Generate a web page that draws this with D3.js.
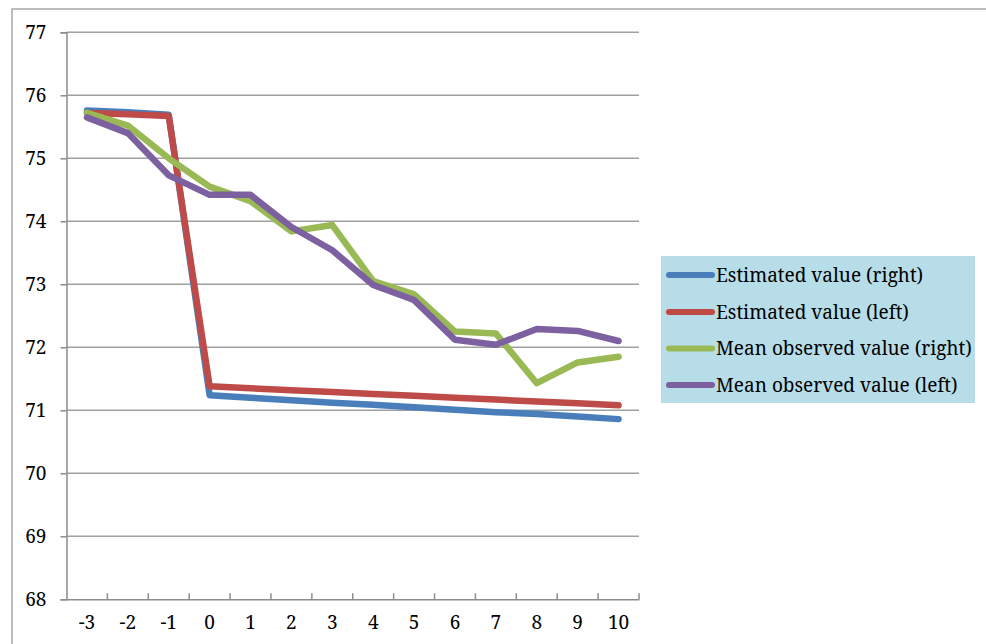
<!DOCTYPE html>
<html>
<head>
<meta charset="utf-8">
<script src="https://cdn.jsdelivr.net/npm/d3@7"></script>
<style>
html,body{margin:0;padding:0;background:#fff;overflow:hidden;}
svg{display:block;}
</style>
</head>
<body>
<svg id="chart" width="986" height="644"></svg>
<script>
const categories = ["-3","-2","-1","0","1","2","3","4","5","6","7","8","9","10"];
const estRight = [75.76,75.73,75.69,71.24,71.20,71.16,71.12,71.09,71.05,71.01,70.97,70.94,70.90,70.86];
const estLeft  = [75.72,75.70,75.67,71.38,71.35,71.32,71.29,71.26,71.23,71.20,71.17,71.14,71.11,71.08];
const obsRight = [75.72,75.52,75.00,74.55,74.32,73.84,73.94,73.05,72.84,72.25,72.22,71.43,71.76,71.85];
const obsLeft  = [75.65,75.40,74.73,74.42,74.42,73.91,73.54,72.99,72.75,72.12,72.04,72.29,72.26,72.10];
const seriesNames = ["Estimated value (right)","Estimated value (left)","Mean observed value (right)","Mean observed value (left)"];
const seriesColors = ["#4a7ebb","#be4b48","#98b954","#7d60a0"];
const yTicks = [68,69,70,71,72,73,74,75,76,77];

const seriesData = [estRight, estLeft, obsRight, obsLeft];
const FONT = '"Noto Serif", "Liberation Serif", serif';

const svg = d3.select("#chart");
const plot = {left:66.5, right:639, top:32.3, bottom:599.3};

// outer frame
svg.append("rect").attr("x",12).attr("y",9).attr("width",1100).attr("height",800)
  .attr("fill","none").attr("stroke","#a6a6a6").attr("stroke-width",1.5);

const x = d3.scaleBand().domain(categories).range([plot.left, plot.right]);
const y = d3.scaleLinear().domain([68,77]).range([plot.bottom, plot.top]);

// gridlines
svg.append("g").selectAll("line").data(yTicks.filter(d=>d>68)).join("line")
  .attr("x1",plot.left).attr("x2",plot.right)
  .attr("y1",d=>y(d)).attr("y2",d=>y(d))
  .attr("stroke","#a0a0a0").attr("stroke-width",1.5);

// y axis
const yAxis = svg.append("g").attr("transform",`translate(${plot.left},0)`)
  .call(d3.axisLeft(y).tickValues(yTicks).tickSize(6).tickPadding(14).tickFormat(d3.format("d")));
yAxis.select(".domain").attr("stroke","#8c8c8c").attr("stroke-width",1.5);
yAxis.selectAll(".tick line").attr("stroke","#8c8c8c").attr("stroke-width",1.5);
yAxis.selectAll("text").style("font-size","19px").style("font-family",FONT).attr("fill","#000");

// x axis
const xAxis = svg.append("g").attr("transform",`translate(0,${plot.bottom})`)
  .call(d3.axisBottom(x).tickSize(0).tickPadding(16));
xAxis.select(".domain").attr("stroke","#8c8c8c").attr("stroke-width",1.5);
xAxis.selectAll("text").style("font-size","19px").style("font-family",FONT).attr("fill","#000");
// category boundary tick marks (pointing up)
const bounds = categories.slice(1).map(c=>x(c)).concat([plot.right]);
svg.append("g").selectAll("line").data(bounds).join("line")
  .attr("x1",d=>d).attr("x2",d=>d).attr("y1",plot.bottom).attr("y2",plot.bottom-6)
  .attr("stroke","#8c8c8c").attr("stroke-width",1.5);

// lines
const line = d3.line().x((d,i)=>x(categories[i])+x.bandwidth()/2).y(d=>y(d));
svg.append("g").selectAll("path").data(seriesData).join("path")
  .attr("d",d=>line(d)).attr("fill","none")
  .attr("stroke",(d,i)=>seriesColors[i]).attr("stroke-width",6.5)
  .attr("stroke-linejoin","round").attr("stroke-linecap","round");

// legend
const leg = svg.append("g");
leg.append("rect").attr("x",661).attr("y",256).attr("width",314).attr("height",147).attr("fill","#b7dde8");
const rowY = [275,312,348.5,385];
seriesNames.forEach((n,i)=>{
  leg.append("line").attr("x1",669).attr("x2",712).attr("y1",rowY[i]).attr("y2",rowY[i])
    .attr("stroke",seriesColors[i]).attr("stroke-width",6).attr("stroke-linecap","round");
  leg.append("text").attr("x",716).attr("y",rowY[i]).attr("dy","0.35em")
    .style("font-family",FONT).style("font-size","19px").attr("fill","#000").text(n);
});
</script>
</body>
</html>
